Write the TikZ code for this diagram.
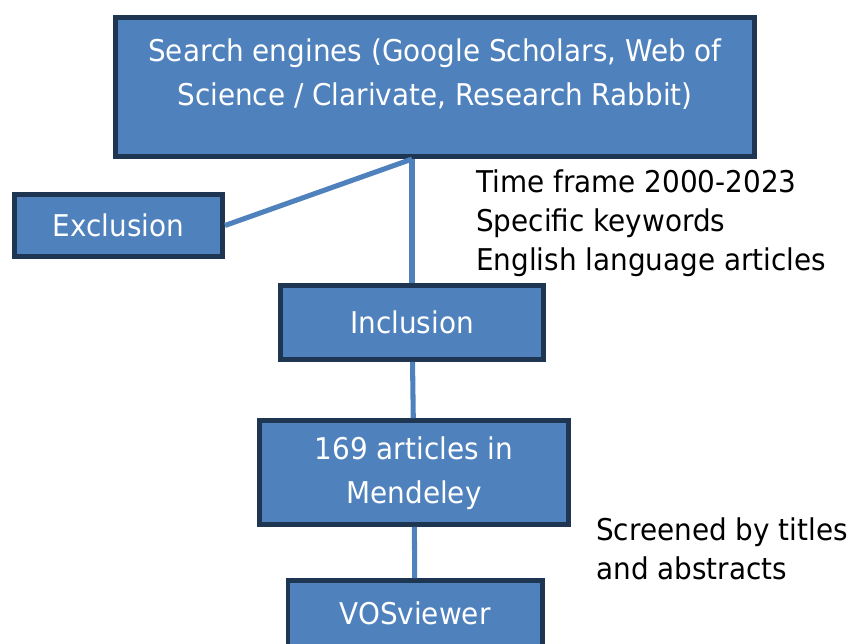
\documentclass[tikz,border=0pt]{standalone}
\usepackage{fontspec}
\setmainfont{DejaVu Sans}[FakeStretch=0.93]
\definecolor{boxblue}{HTML}{4F81BD}
\definecolor{boxedge}{HTML}{1F3652}
\begin{document}
\begin{tikzpicture}[x=0.025cm, y=-0.025cm,
    box/.style={draw=boxedge, fill=boxblue, line width=3.5pt, text=white, align=center,
        font=\fontsize{21.3}{31.2}\selectfont},
    link/.style={draw=boxblue, line width=3.6pt},
    note/.style={align=left, anchor=west, inner sep=0pt, font=\fontsize{21.3}{27.6}\selectfont}]
%		    \draw[help lines] (0,0) grid (848,644);
			\clip (0,0) rectangle (848,644);
			\node[box, minimum width=15.98cm, minimum height=3.48cm] (engines) at (435,87) {\begin{tabular}{c} Search engines (Google Scholars, Web of \\ Science / Clarivate, Research Rabbit) \\[0.62cm] \end{tabular}};
			\node[box, minimum width=5.2cm, minimum height=1.55cm] (exclusion) at (118.5,225.5) {Exclusion};
			\node[box, minimum width=6.58cm, minimum height=1.85cm] (inclusion) at (412,322.5) {Inclusion};
			\node[box, minimum width=7.73cm, minimum height=2.6cm] (articles) at (414,472.5) {\begin{tabular}{c} 169 articles in \\ Mendeley \end{tabular}};
			\node[box, minimum width=6.35cm, minimum height=2cm] (vos) at (415,620.5) {\raisebox{0.35cm}{VOSviewer}};
			\node[note] (criteria) at (476,223) {Time frame 2000-2023 \\ Specific keywords \\ English language articles};
			\node[note] (screened) at (596,549) {\fontsize{21.3}{31.2}\selectfont Screened by titles \\ and abstracts};
			\coordinate (split) at (inclusion.north |- engines.south);
			\draw[link] (split) -- (inclusion);
			\draw[link] (split) -- (exclusion.east);
			\draw[link] (inclusion) -- (articles);
			\draw[link] (articles) -- (vos);
		\end{tikzpicture}
\end{document}
